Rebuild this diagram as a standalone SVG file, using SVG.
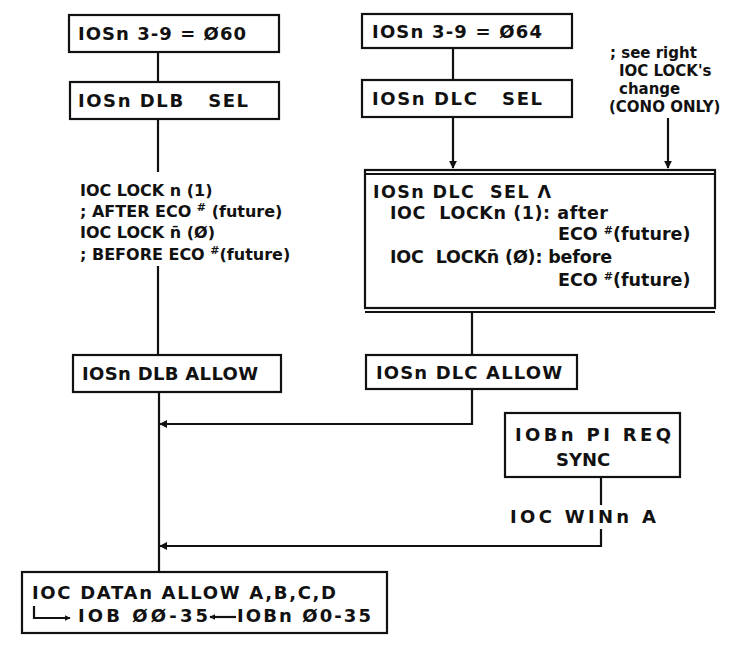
<svg xmlns="http://www.w3.org/2000/svg" width="752" height="646" viewBox="0 0 752 646">
<style>
.bx{fill:#fff;stroke:#111;stroke-width:2.2}
.ln{fill:none;stroke:#111;stroke-width:2.2}
.t{font-family:"DejaVu Sans","Liberation Sans",sans-serif;font-size:18px;font-weight:bold;fill:#111}
.m{font-family:"DejaVu Sans","Liberation Sans",sans-serif;font-size:16px;font-weight:bold;fill:#111}
.b{font-family:"DejaVu Sans","Liberation Sans",sans-serif;font-size:17.5px;font-weight:bold;fill:#111}
.s{font-family:"DejaVu Sans","Liberation Sans",sans-serif;font-size:15px;font-weight:bold;fill:#111}
.sup{font-size:11px}
</style>
<defs>
<marker id="ah" viewBox="0 0 10 10" refX="9" refY="5" markerWidth="8" markerHeight="8" orient="auto" markerUnits="userSpaceOnUse">
<path d="M0,0 L10,5 L0,10 z" fill="#111"/>
</marker>
<marker id="ahs" viewBox="0 0 10 10" refX="9" refY="5" markerWidth="6" markerHeight="6" orient="auto" markerUnits="userSpaceOnUse">
<path d="M0,0 L10,5 L0,10 z" fill="#111"/>
</marker>
</defs>
<rect width="752" height="646" fill="#fff"/>
<g id="connectors">
<path class="ln" d="M158,52 V82"/>
<path class="ln" d="M158,119 V172"/>
<path class="ln" d="M158,266 V355"/>
<path class="ln" d="M159,392 V572"/>
<path class="ln" d="M453,48 V80"/>
<path class="ln" d="M453,117 V168" marker-end="url(#ah)"/>
<path class="ln" d="M668,118 V168" marker-end="url(#ah)"/>
<path class="ln" d="M472,312 V355"/>
<path class="ln" d="M472,389 V424 H160" marker-end="url(#ah)"/>
<path class="ln" d="M601,477 V505"/>
<path class="ln" d="M601,529 V546 H160" marker-end="url(#ah)"/>
</g>
<g id="n1"><rect class="bx" x="69" y="15" width="210" height="37"/><text class="t" x="78" y="40" textLength="168">IOSn 3-9 = Ø60</text></g>
<g id="n2"><rect class="bx" x="70" y="82" width="209" height="37"/><text class="t" x="78" y="107" textLength="170" xml:space="preserve">IOSn DLB   SEL</text></g>
<g id="n3"><text class="m" x="80" y="196">IOC LOCK n (1)</text>
<text class="m" x="80" y="217">; AFTER ECO <tspan class="sup" dy="-6">#</tspan><tspan dy="6"> (future)</tspan></text>
<text class="m" x="80" y="238">IOC LOCK n̄ (Ø)</text>
<text class="m" x="80" y="260">; BEFORE ECO <tspan class="sup" dy="-6">#</tspan><tspan dy="6">(future)</tspan></text></g>
<g id="n4"><rect class="bx" x="73" y="355" width="208" height="37"/><text class="t" x="82" y="380" textLength="176">IOSn DLB ALLOW</text></g>
<g id="n5"><rect class="bx" x="362" y="14" width="210" height="34"/><text class="t" x="372" y="38" textLength="170">IOSn 3-9 = Ø64</text></g>
<g id="n6"><rect class="bx" x="362" y="80" width="210" height="37"/><text class="t" x="372" y="105" textLength="170" xml:space="preserve">IOSn DLC   SEL</text></g>
<g id="n7"><text class="s" x="610" y="58">; see right</text>
<text class="s" x="619" y="76">IOC LOCK's</text>
<text class="s" x="619" y="94">change</text>
<text class="s" x="609" y="112">(CONO ONLY)</text></g>
<g id="n8"><rect class="bx" x="365" y="170" width="350" height="138"/>
<path class="ln" d="M365,174 H715 M365,312 H715" stroke-width="1.6"/>
<text class="b" x="373" y="198" xml:space="preserve" textLength="178">IOSn DLC  SEL Λ</text>
<text class="b" x="390" y="219" xml:space="preserve" textLength="218">IOC  LOCKn (1): after</text>
<text class="b" x="558" y="240">ECO <tspan class="sup" dy="-6">#</tspan><tspan dy="6">(future)</tspan></text>
<text class="b" x="390" y="263" xml:space="preserve" textLength="222">IOC  LOCKn̄ (Ø): before</text>
<text class="b" x="558" y="286">ECO <tspan class="sup" dy="-6">#</tspan><tspan dy="6">(future)</tspan></text></g>
<g id="n9"><rect class="bx" x="366" y="355" width="211" height="34"/><text class="t" x="376" y="379" textLength="186">IOSn DLC ALLOW</text></g>
<g id="n10"><rect class="bx" x="505" y="413" width="175" height="64"/><text class="t" x="515" y="441" textLength="156">IOBn PI REQ</text><text class="t" x="556" y="466">SYNC</text></g>
<g id="n11"><text class="t" x="510" y="523" textLength="146">IOC WINn A</text></g>
<g id="n12"><rect class="bx" x="22" y="572" width="365" height="61"/>
<text class="t" x="32" y="599" textLength="304">IOC DATAn ALLOW A,B,C,D</text>
<path class="ln" d="M34,606 V618 H70" stroke-width="1.8" marker-end="url(#ahs)"/>
<text class="t" x="78" y="622" textLength="130">IOB ØØ-35</text>
<path class="ln" d="M236,617 H210" stroke-width="1.8" marker-end="url(#ahs)"/>
<text class="t" x="237" y="622" textLength="134">IOBn Ø0-35</text></g>
</svg>
